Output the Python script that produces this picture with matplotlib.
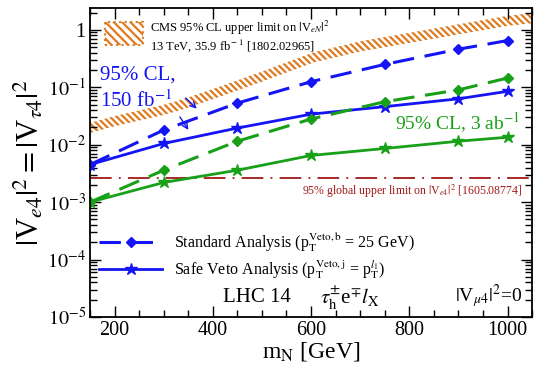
import numpy as np
import matplotlib
matplotlib.use("Agg")
import matplotlib.pyplot as plt
from matplotlib.lines import Line2D
from matplotlib.patches import Rectangle
from matplotlib.ticker import LogLocator, FixedLocator, FuncFormatter, NullFormatter

plt.rcParams['font.family'] = ['Liberation Serif', 'DejaVu Serif']
plt.rcParams['mathtext.fontset'] = 'stix'
plt.rcParams['hatch.linewidth'] = 1.6

# data
mN = [150, 300, 450, 600, 750, 900, 1000]
std_150fb  = [4.5e-3, 1.8e-2, 5.3e-2, 1.25e-1, 2.5e-1, 4.6e-1, 6.5e-1]
safe_150fb = [4.5e-3, 1.05e-2, 1.95e-2, 3.4e-2, 4.6e-2, 6.3e-2, 8.5e-2]
std_3ab    = [1.0e-3, 3.6e-3, 1.15e-2, 2.8e-2, 5.6e-2, 9.0e-2, 1.45e-1]
safe_3ab   = [1.0e-3, 2.2e-3, 3.6e-3, 6.5e-3, 8.6e-3, 1.15e-2, 1.35e-2]

cms_mN  = [150, 200, 300, 334, 400, 500, 605, 700, 858, 1000, 1050]
cms_lim = [1.6e-2, 2.1e-2, 3.3e-2, 4.0e-2, 6.2e-2, 1.25e-1, 2.7e-1, 4.2e-1, 7.2e-1, 1.17, 1.3]
cms_width = 1.5

global_lim = 2.6e-3

blue   = '#1414f5'
green  = '#18a018'
red    = '#a01818'
orange = '#e07a1e'

fg = plt.figure(figsize=(5.34, 3.73), dpi=100)
ax = fg.add_axes([0.1685, 0.150, 0.828, 0.8286])

# CMS hatched band
ax.fill_between(cms_mN, cms_lim, np.array(cms_lim) * cms_width, facecolor='none',
                edgecolor=orange, hatch='\\\\\\\\\\', linewidth=0)

ax.axhline(global_lim, color=red, lw=1.3, ls=(0, (12, 4, 1, 4)))

ax.plot(mN, std_150fb, color=blue, lw=2.2, ls=(0, (7, 3.5)), marker='D', ms=5.5)
ax.plot(mN, safe_150fb, color=blue, lw=2.0, ls='-', marker='*', ms=9)
ax.plot(mN, std_3ab, color=green, lw=2.2, ls=(0, (7, 3.5)), marker='D', ms=5.5)
ax.plot(mN, safe_3ab, color=green, lw=2.0, ls='-', marker='*', ms=9)

ax.set_yscale('log')
ax.set_xlim(150, 1050)
ax.set_ylim(1e-5, 2.4)

ax.xaxis.set_major_locator(FixedLocator([200, 400, 600, 800, 1000]))
ax.xaxis.set_minor_locator(FixedLocator(np.arange(150, 1051, 50)))
ax.yaxis.set_major_locator(LogLocator(base=10, numticks=10))
ax.yaxis.set_minor_locator(LogLocator(base=10, subs=np.arange(2, 10), numticks=10))
ax.yaxis.set_minor_formatter(NullFormatter())

def ylab(v, pos):
    e = int(round(np.log10(v)))
    if e == 0:
        return "1"
    return r"$10^{%d}$" % e

ax.yaxis.set_major_formatter(FuncFormatter(ylab))
ax.tick_params(which='both', direction='in', top=True, right=True, labelsize=14.5, width=1.0)
ax.tick_params(which='major', length=8, pad=3)
ax.tick_params(which='minor', length=5)
for s in ax.spines.values():
    s.set_linewidth(1.3)

ax.set_xlabel(r"m$_{\rm N}$ [GeV]", fontsize=17, labelpad=0)
ax.set_ylabel(r"$|$V$_{e4}|^2 = |$V$_{\tau4}|^2$", fontsize=22, labelpad=1)

# CMS legend box
ax.add_patch(Rectangle((0.034, 0.880), 0.086, 0.074, transform=ax.transAxes,
                       facecolor='none', edgecolor=orange, hatch='\\\\\\\\',
                       linewidth=1.5, ls=':'))
ax.text(0.135, 0.935, r"CMS 95% CL upper limit on $|$V$_{eN}|^2$", transform=ax.transAxes,
        fontsize=9, va='center')
ax.text(0.135, 0.878, r"13 TeV, 35.9 fb$^{\rm -1}$ [1802.02965]", transform=ax.transAxes,
        fontsize=9, va='center')

ax.text(0.023, 0.783, "95% CL,", transform=ax.transAxes, color=blue, fontsize=15, va='center')
ax.text(0.023, 0.700, r"150 fb$^{-1}$", transform=ax.transAxes, color=blue, fontsize=15, va='center')
for a, b in [((0.212, 0.715), (0.246, 0.668)), ((0.200, 0.655), (0.226, 0.598))]:
    ax.annotate("", xy=b, xytext=a, xycoords='axes fraction',
                arrowprops=dict(arrowstyle='->', color=blue, lw=1.0))

ax.text(0.69, 0.628, r"95% CL, 3 ab$^{-1}$", transform=ax.transAxes, color=green,
        fontsize=14, va='center')
ax.text(0.977, 0.408, r"95% global upper limit on $|$V$_{e4}|^2$ [1605.08774]",
        transform=ax.transAxes, color=red, fontsize=8.5, va='center', ha='right')

handles = [Line2D([], [], color=blue, lw=2.2, ls=(0, (7, 3.5)), marker='D', ms=5.5),
           Line2D([], [], color=blue, lw=2.0, ls='-', marker='*', ms=9)]
labels = [r"Standard Analysis (p$_{\rm T}^{\rm Veto,b}$ = 25 GeV)",
          r"Safe Veto Analysis (p$_{\rm T}^{\rm Veto,j}$ = p$_{\rm T}^{l_1}$)"]
ax.legend(handles, labels, loc='upper left', bbox_to_anchor=(0.005, 0.30), frameon=False,
          fontsize=11.5, handlelength=4.0, labelspacing=0.3, handletextpad=0.7, borderaxespad=0)

ax.text(0.30, 0.062, "LHC 14", transform=ax.transAxes, fontsize=15, va='center')
ax.text(0.52, 0.062, r"$\tau_{\rm h}^{\pm}$e$^{\mp}l_{\rm X}$", transform=ax.transAxes,
        fontsize=15, va='center')
ax.text(0.977, 0.068, r"$|$V$_{\mu4}|^2$=0", transform=ax.transAxes, fontsize=14,
        va='center', ha='right')

fg.savefig("out.png", dpi=100)
plt.close(fg)
